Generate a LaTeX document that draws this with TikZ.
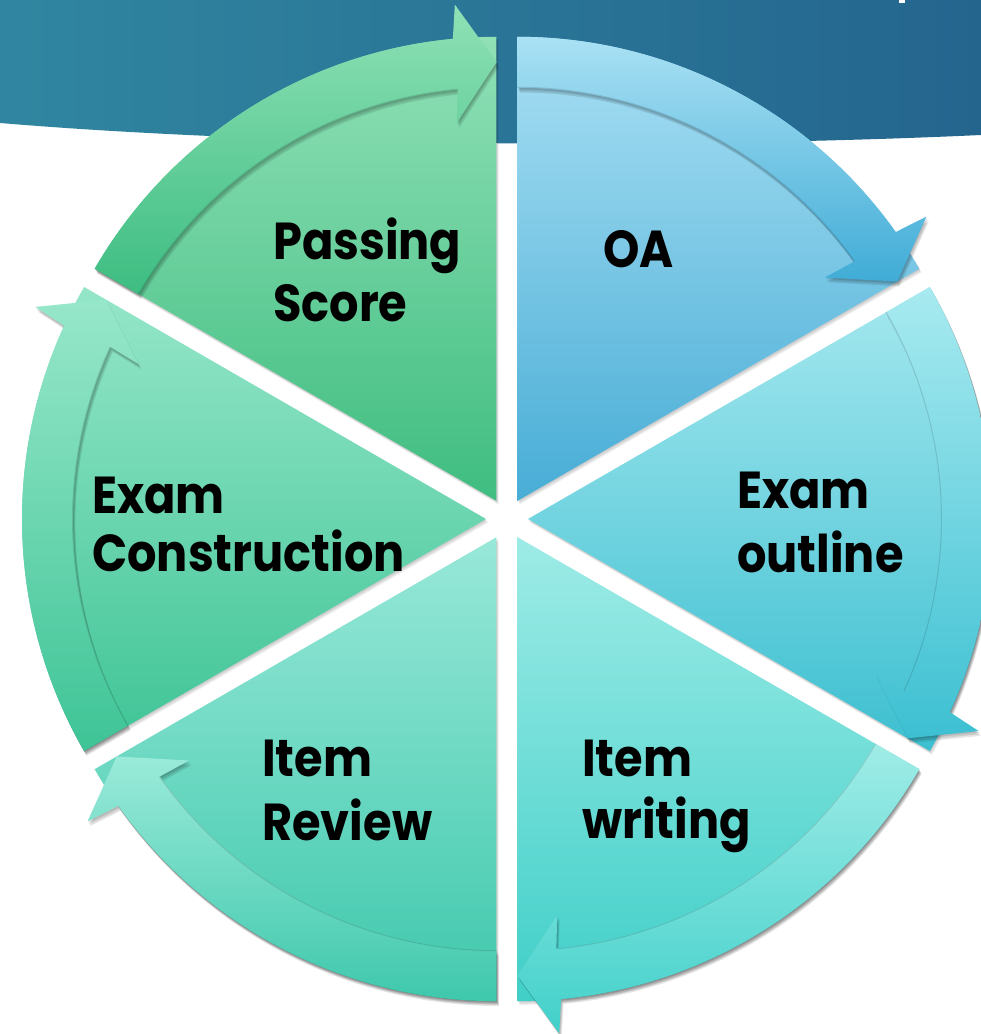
\documentclass[tikz,border=0pt]{standalone}
\usepackage{fontspec}
\newfontfamily\lblfont[FakeStretch=0.89]{Poppins}
\definecolor{bgL}{RGB}{48,134,160}
\definecolor{bgR}{RGB}{36,101,142}
% sector body and band colours (top / bottom)
\definecolor{oaT}{RGB}{168,223,243}\definecolor{oaB}{RGB}{72,173,214}
\definecolor{oaT2}{RGB}{170,225,244}\definecolor{oaB2}{RGB}{64,172,214}
\definecolor{eoT}{RGB}{165,232,239}\definecolor{eoB}{RGB}{61,191,208}
\definecolor{eoT2}{RGB}{168,234,240}\definecolor{eoB2}{RGB}{61,192,210}
\definecolor{iwT}{RGB}{158,235,230}\definecolor{iwB}{RGB}{64,207,200}
\definecolor{iwT2}{RGB}{160,236,231}\definecolor{iwB2}{RGB}{66,208,202}
\definecolor{irT}{RGB}{152,232,216}\definecolor{irB}{RGB}{63,200,172}
\definecolor{irT2}{RGB}{154,234,217}\definecolor{irB2}{RGB}{62,200,172}
\definecolor{ecT}{RGB}{149,230,201}\definecolor{ecB}{RGB}{63,196,150}
\definecolor{ecT2}{RGB}{151,231,202}\definecolor{ecB2}{RGB}{62,196,150}
\definecolor{psT}{RGB}{144,224,182}\definecolor{psB}{RGB}{63,189,128}
\definecolor{psT2}{RGB}{143,225,182}\definecolor{psB2}{RGB}{61,189,129}
\newcommand\twol[3][62]{{\fontsize{52}{#1}\selectfont\begin{tabular}[t]{@{}l@{}}#2\\#3\end{tabular}}}
\begin{document}
\begin{tikzpicture}[x=1pt,y=1pt,
  lbl/.style={anchor=base west, inner sep=0pt, text=black,
    font={\lblfont\bfseries\fontsize{52}{62}\selectfont}},
  shadowfill/.style={fill=black, opacity=0.07}]
\useasboundingbox (-507,-515) rectangle (474,519);
\clip (-507,-515) rectangle (474,519);
\fill[white] (-507,-515) rectangle (474,519);
% top banner
\shade[left color=bgL, right color=bgR]
  (-507,519) -- (474,519) -- (474,384) .. controls (193,371) and (-207,371) .. (-507,396) -- cycle;
\fill[white] (392,516) rectangle (398,519);
% six exploded sectors with arrow bands
\foreach \k/\bt/\bb/\at/\ab in {0/oaT/oaB/oaT2/oaB2, 1/eoT/eoB/eoT2/eoB2, 2/iwT/iwB/iwT2/iwB2,
    3/irT/irB/irT2/irB2, 4/ecT/ecB/ecT2/ecB2, 5/psT/psB/psT2/psB2}{
  \pgfmathsetmacro\aA{90-60*\k}
  \pgfmathsetmacro\aB{30-60*\k}
  \pgfmathsetmacro\bis{60-60*\k}
  \pgfmathsetmacro\hj{\aB+5.4}
  \pgfmathsetmacro\ho{\aB+4.8}
  \pgfmathsetmacro\hi{\aB+6}
  \def\bodyp{(0,0) -- (\aA:464) arc[start angle=\aA, end angle=\aB, radius=464] -- cycle}
  \def\bandp{(\aA:464) arc[start angle=\aA, end angle=\hj, radius=464] -- (\ho:498) -- (\aB:438.5)
     -- (\hi:380) -- (\hj:413) arc[start angle=\hj, end angle=\aA, radius=413] -- cycle}
  \begin{scope}[shift={(\bis:21)}]
    \foreach \s in {1,2,3}{\fill[shadowfill, shift={(0.7*\s,-1.2*\s)}] \bodyp;}
    \shade[top color=\bt, bottom color=\bb] \bodyp;
    \foreach \s in {1,2,3}{\fill[shadowfill, opacity=0.1, shift={(0.8*\s,-1.6*\s)}] \bandp;}
    \shade[top color=\at, bottom color=\ab] \bandp;
    \draw[black, opacity=0.12, line width=1pt] (\hj:413.5) arc[start angle=\hj, end angle=\aA, radius=413.5];
  \end{scope}
}
% labels
\node[lbl] (ps) at (-234,259) {\twol{Passing}{Score}};
\node[lbl] (oa) at (96,251) {OA};
\node[lbl] (eo) at (230,11) {\twol[64]{Exam}{outline}};
\node[lbl] (ec) at (-415,6) {\twol[57]{Exam}{Construction}};
\node[lbl] (ir) at (-245,-257) {\twol[64]{Item}{Review}};
\node[lbl] (iw) at (75,-257) {\twol{Item}{writing}};
\end{tikzpicture}
\end{document}
